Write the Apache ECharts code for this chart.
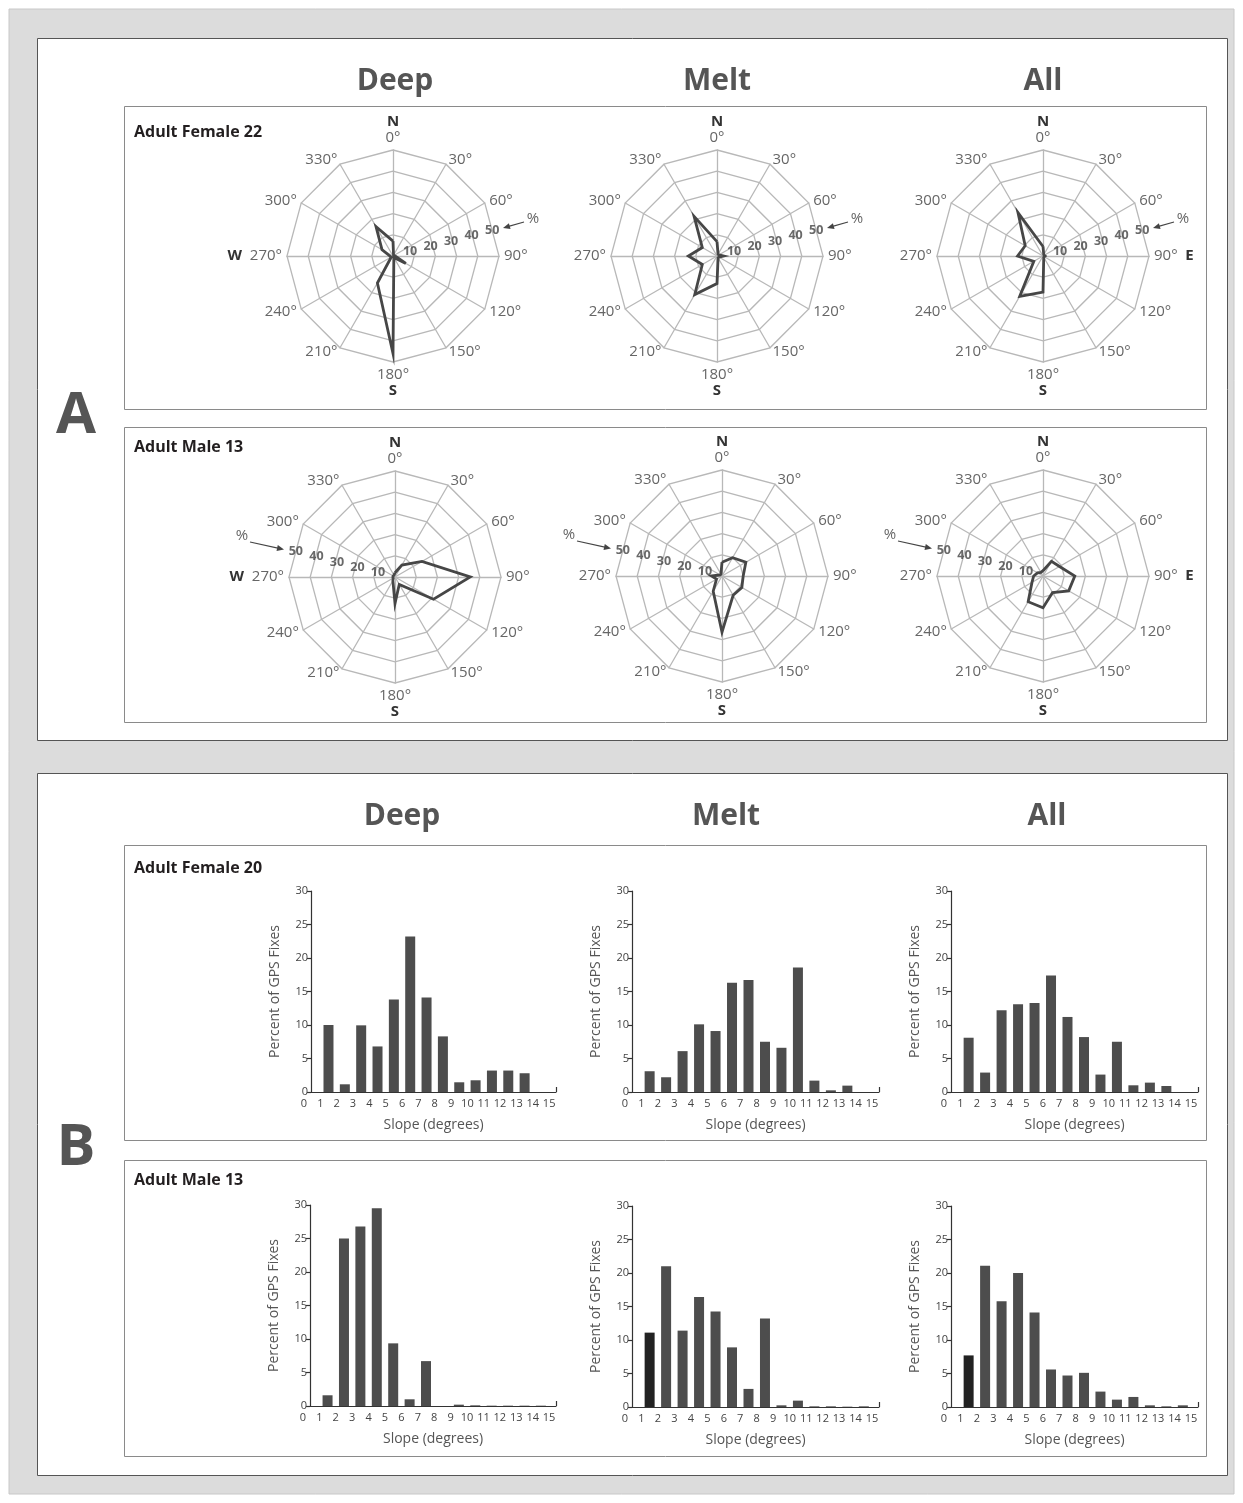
<!DOCTYPE html>
<html><head><meta charset="utf-8">
<script src="https://cdn.jsdelivr.net/npm/echarts@6/dist/echarts.min.js"></script>
<style>html,body{margin:0;padding:0;background:#fff;overflow:hidden}#c{width:1243px;height:1503px}</style>
</head><body><div id="c"></div>
<script>
// ---------- DATA ----------
const directionDegrees = [0, 30, 60, 90, 120, 150, 180, 210, 240, 270, 300, 330];
const directionLabels = directionDegrees.map(d => d + '°');
const ringValues = [10, 20, 30, 40, 50];
const columnTitles = ['Deep', 'Melt', 'All'];
const aspectRowLabels = ['Adult Female 22', 'Adult Male 13'];
const slopeRowLabels = ['Adult Female 20', 'Adult Male 13'];

// aspect (% of fixes) by compass direction 0..330
const aspectFemaleDeep = [7, 0.5, 0.5, 1, 7, 0.8, 46, 14.7, 1, 1.5, 6, 16];
const aspectFemaleMelt = [6.8, 1, 1, 3, 1, 1, 13, 21, 8, 13.5, 8, 21.6];
const aspectFemaleAll  = [4.5, 0.7, 0.7, 1, 0.7, 0.7, 17, 22, 5, 12, 9.7, 23.6];
const aspectMaleDeep   = [2, 6.5, 14.7, 35.5, 21, 4, 12.5, 2, 1, 1, 1, 1];
const aspectMaleMelt   = [6.5, 10, 13, 10, 10.8, 10.5, 26.5, 8.3, 3, 5, 1, 1];
const aspectMaleAll    = [2.5, 8, 9, 15, 14, 9, 15, 14, 6, 4.4, 3, 2];

// slope bins 0-1 .. 14-15 (% of GPS fixes)
const slopeTicks = [0, 1, 2, 3, 4, 5, 6, 7, 8, 9, 10, 11, 12, 13, 14, 15];
const slopeFemaleDeep = [0, 10.0, 1.15, 9.95, 6.8, 13.8, 23.2, 14.1, 8.3, 1.45, 1.75, 3.2, 3.2, 2.8, 0];
const slopeFemaleMelt = [0, 3.1, 2.2, 6.1, 10.1, 9.1, 16.3, 16.7, 7.5, 6.6, 18.6, 1.7, 0.25, 0.95, 0];
const slopeFemaleAll  = [0, 8.1, 2.9, 12.2, 13.1, 13.3, 17.4, 11.2, 8.2, 2.6, 7.5, 1.0, 1.4, 0.9, 0];
const slopeMaleDeep   = [0, 1.6, 25.0, 26.8, 29.5, 9.35, 1.0, 6.7, 0, 0.2, 0.1, 0.05, 0.05, 0.05, 0.05];
const slopeMaleMelt   = [0, 11.1, 21.0, 11.4, 16.4, 14.25, 8.9, 2.7, 13.2, 0.25, 0.95, 0.1, 0.1, 0.05, 0.1];
const slopeMaleAll    = [0, 7.7, 21.1, 15.8, 20.0, 14.1, 5.6, 4.7, 5.1, 2.3, 1.1, 1.5, 0.25, 0.1, 0.25];
const yTicks = [0, 5, 10, 15, 20, 25, 30];

// ---------- LAYOUT / STYLE ----------
const FONT = '"Open Sans", "Noto Sans", sans-serif';
const GRAY_LINE = '#b8b8b8';
const radarCenters = [[393, 256], [717, 256], [1043, 256], [395, 577], [722, 576], [1043, 576]];
const RADAR_R = 106;
const radarSets = [aspectFemaleDeep, aspectFemaleMelt, aspectFemaleAll, aspectMaleDeep, aspectMaleMelt, aspectMaleAll];
const slopeSets = [slopeFemaleDeep, slopeFemaleMelt, slopeFemaleAll, slopeMaleDeep, slopeMaleMelt, slopeMaleAll];
const barGrids = [
  {left: 311, top: 891, width: 245, height: 201},
  {left: 632, top: 891, width: 247, height: 201},
  {left: 951, top: 891, width: 247, height: 201},
  {left: 310, top: 1205, width: 246, height: 201},
  {left: 632, top: 1206, width: 247, height: 201},
  {left: 951, top: 1206, width: 247, height: 201}
];
const X_MIN = 0.43, X_MAX = 15.42;   // axis line spans these label-space values
const darkFirstBar = [false, false, false, false, true, true];

// counter-clockwise indicator order so that compass angles run clockwise
const ccwOrder = [0, 11, 10, 9, 8, 7, 6, 5, 4, 3, 2, 1];

const radars = [], polars = [], angleAxes = [], radiusAxes = [], series = [];
radarSets.forEach((vals, k) => {
  const col = k % 3, row = Math.floor(k / 3);
  const letters = {0: 'N', 180: 'S'};
  if (col === 0) letters[270] = 'W';
  if (col === 2) letters[90] = 'E';
  radars.push({
    center: radarCenters[k], radius: RADAR_R, startAngle: 90, splitNumber: 5, shape: 'polygon',
    nameGap: 5,
    axisName: {
      color: '#666', fontFamily: FONT, fontSize: 15,
      formatter: (name) => {
        const deg = parseInt(name, 10);
        const L = letters[deg];
        if (!L) return '{d|' + name + '}';
        if (deg === 0) return '{c|' + L + '}\n{d|' + name + '}';
        if (deg === 180) return '{d|' + name + '}\n{c|' + L + '}';
        if (deg === 270) return '{c|' + L + '}  {d|' + name + '}';
        return '{d|' + name + '}  {c|' + L + '}';
      },
      rich: {
        d: {color: '#666', fontFamily: FONT, fontSize: 15, lineHeight: 15},
        c: {color: '#333', fontFamily: FONT, fontSize: 15, fontWeight: 'bold', lineHeight: 17}
      }
    },
    splitLine: {lineStyle: {color: GRAY_LINE, width: 1.3}},
    splitArea: {show: false},
    axisLine: {lineStyle: {color: GRAY_LINE, width: 1.3}},
    axisTick: {show: false}, axisLabel: {show: false},
    indicator: ccwOrder.map(i => ({name: directionLabels[i], min: 0, max: 50}))
  });
  series.push({
    type: 'radar', radarIndex: k, symbol: 'none', silent: true,
    lineStyle: {color: '#464646', width: 2.8, join: 'miter'},
    data: [{value: ccwOrder.map(i => vals[i])}]
  });
  polars.push({center: radarCenters[k], radius: RADAR_R});
  angleAxes.push({polarIndex: k, type: 'value', min: 0, max: 360, startAngle: 90, clockwise: true, show: false});
  radiusAxes.push({polarIndex: k, type: 'value', min: 0, max: 50, show: false});
  const ang = row === 0 ? 75.5 : 284.5;
  series.push({
    type: 'scatter', coordinateSystem: 'polar', polarIndex: k, symbolSize: 0, silent: true, z: 5,
    data: ringValues.map(v => [v - 1.7, ang, v]),
    label: {show: true, position: 'inside', formatter: p => p.value[2], fontFamily: FONT,
      fontWeight: 'bold', fontSize: 12.5, color: '#444'}
  });
});

const grids = [], xAxes = [], yAxes = [];
slopeSets.forEach((vals, k) => {
  grids.push(Object.assign({containLabel: false}, barGrids[k]));
  xAxes.push({
    gridIndex: k, type: 'value', min: X_MIN, max: X_MAX,
    axisLine: {show: true, onZero: false, lineStyle: {color: '#333', width: 1.2}},
    axisTick: {show: true, inside: true, length: 5, customValues: [X_MAX], lineStyle: {color: '#333', width: 1.2}},
    splitLine: {show: false},
    axisLabel: {fontFamily: FONT, fontSize: 11, color: '#444', margin: 6, customValues: slopeTicks.slice(1)},
    name: 'Slope (degrees)', nameLocation: 'middle', nameGap: 26,
    nameTextStyle: {fontFamily: FONT, fontSize: 14, color: '#555'}
  });
  yAxes.push({
    gridIndex: k, type: 'value', min: yTicks[0], max: yTicks[yTicks.length - 1], interval: 5,
    axisLine: {show: true, lineStyle: {color: '#333', width: 1.2}},
    axisTick: {show: true, length: 4, lineStyle: {color: '#333', width: 1.2}},
    splitLine: {show: false},
    axisLabel: {fontFamily: FONT, fontSize: 11, color: '#444', margin: 3},
    name: 'Percent of GPS Fixes', nameLocation: 'middle', nameGap: 29,
    nameTextStyle: {fontFamily: FONT, fontSize: 14, color: '#555'}
  });
  series.push({
    type: 'bar', xAxisIndex: k, yAxisIndex: k, barWidth: 10, silent: true,
    itemStyle: {color: '#4d4d4d'},
    data: vals.map((v, i) => ({
      value: [slopeTicks[i] + 0.5, v],
      itemStyle: (darkFirstBar[k] && i === 1) ? {color: '#222'} : undefined
    }))
  });
});

// ---------- GRAPHIC (frames, titles, annotations) ----------
const g = [];
g.push({type: 'rect', z: -20, shape: {x: 9, y: 9, width: 1225, height: 1485}, style: {fill: '#dcdcdc', stroke: '#c8c8c8'}});
g.push({type: 'rect', z: -19, shape: {x: 37.5, y: 38.5, width: 1190, height: 702}, style: {fill: '#fff', stroke: '#555', lineWidth: 1}});
g.push({type: 'rect', z: -19, shape: {x: 37.5, y: 773.5, width: 1190, height: 702}, style: {fill: '#fff', stroke: '#555', lineWidth: 1}});
[[106, 303], [427, 295], [845, 295], [1160, 296]].forEach(([y, h]) => {
  g.push({type: 'rect', z: -18, shape: {x: 124.5, y: y + 0.5, width: 1082, height: h}, style: {fill: 'none', stroke: '#8a8a8a', lineWidth: 1}});
});
const titleX = [[395, 717, 1043], [402, 726, 1047]];
const titleY = [81, 816];
titleX.forEach((xs, r) => xs.forEach((x, c) => {
  g.push({type: 'text', z: 100, x: x, y: titleY[r], style: {text: columnTitles[c], fill: '#555', font: 'bold 30px ' + FONT, textAlign: 'center', textVerticalAlign: 'middle'}});
}));
g.push({type: 'text', z: 100, x: 76, y: 416, style: {text: 'A', fill: '#555', font: 'bold 58px ' + FONT, textAlign: 'center', textVerticalAlign: 'middle'}});
g.push({type: 'text', z: 100, x: 76, y: 1148, style: {text: 'B', fill: '#555', font: 'bold 58px ' + FONT, textAlign: 'center', textVerticalAlign: 'middle'}});
[[aspectRowLabels[0], 132], [aspectRowLabels[1], 447], [slopeRowLabels[0], 868], [slopeRowLabels[1], 1180]].forEach(([t, y]) => {
  g.push({type: 'text', z: 100, x: 134, y: y, style: {text: t, fill: '#231f20', font: 'bold 16px ' + FONT, textAlign: 'left', textVerticalAlign: 'middle'}});
});
// "%" markers with arrows
radarCenters.forEach(([cx, cy], k) => {
  const row = Math.floor(k / 3);
  let pct, a0, a1;
  if (row === 0) { pct = [140, -37]; a0 = [131, -34]; a1 = [110, -28]; }
  else { pct = [-153, -41]; a0 = [-145, -35]; a1 = [-111, -27.5]; }
  g.push({type: 'text', z: 100, x: cx + pct[0], y: cy + pct[1], style: {text: '%', fill: '#666', font: '15px ' + FONT, textAlign: 'center', textVerticalAlign: 'middle'}});
  const x0 = cx + a0[0], y0 = cy + a0[1], x1 = cx + a1[0], y1 = cy + a1[1];
  const dx = x1 - x0, dy = y1 - y0, len = Math.hypot(dx, dy), ux = dx / len, uy = dy / len;
  g.push({type: 'line', z: 100, shape: {x1: x0, y1: y0, x2: x1 - ux * 4, y2: y1 - uy * 4}, style: {stroke: '#444', lineWidth: 1.1}});
  g.push({type: 'polygon', z: 100, shape: {points: [[x1, y1], [x1 - ux * 7 - uy * 3, y1 - uy * 7 + ux * 3], [x1 - ux * 7 + uy * 3, y1 - uy * 7 - ux * 3]]}, style: {fill: '#444'}});
});

const chart = echarts.init(document.getElementById('c'), null, {renderer: 'canvas'});
chart.setOption({
  animation: false,
  backgroundColor: '#fff',
  textStyle: {fontFamily: FONT},
  radar: radars,
  polar: polars,
  angleAxis: angleAxes,
  radiusAxis: radiusAxes,
  grid: grids,
  xAxis: xAxes,
  yAxis: yAxes,
  series: series
});
// "0" slope label sits left of the y axis (outside the drawn axis extent): place it via the axis scale
slopeSets.forEach((vals, k) => {
  const px = chart.convertToPixel({xAxisIndex: k}, slopeTicks[0]);
  const py = chart.convertToPixel({yAxisIndex: k}, 0);
  g.push({type: 'text', z: 100, x: px, y: py + 6, style: {text: String(slopeTicks[0]), fill: '#444', font: '11px ' + FONT, textAlign: 'center', textVerticalAlign: 'top'}});
});
chart.setOption({graphic: {elements: g}});
</script></body></html>
